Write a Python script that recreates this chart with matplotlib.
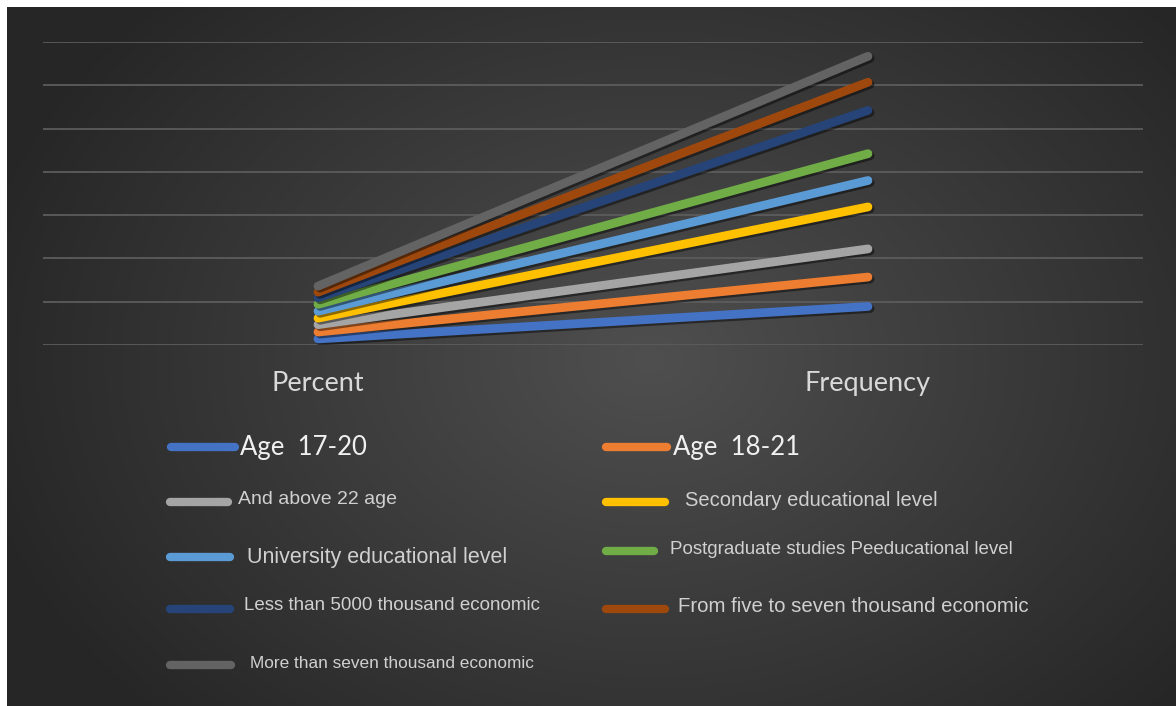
import numpy as np
import matplotlib
matplotlib.use("Agg")
import matplotlib.pyplot as plt
import matplotlib.patheffects as pe
from matplotlib.lines import Line2D

# data (stacked line values, one grid step = 1 unit)
categories = ["Percent", "Frequency"]
series = ["Age  17-20", "Age  18-21", "And above 22 age",
          "Secondary educational level", "University educational level",
          "Postgraduate studies Peeducational level",
          "Less than 5000 thousand economic",
          "From five to seven thousand economic",
          "More than seven thousand economic"]
percent = [0.14, 0.30, 0.47, 0.62, 0.78, 0.94, 1.09, 1.22, 1.36]
frequency = [0.89, 1.57, 2.22, 3.19, 3.80, 4.42, 5.42, 6.07, 6.67]
colors = ["#4472C4", "#ED7D31", "#A5A5A5", "#FFC000", "#5B9BD5",
          "#70AD47", "#264478", "#9E480E", "#636363"]

W, H = 1176, 706
fig = plt.figure(figsize=(W / 100, H / 100), dpi=100, facecolor="white")

def fx(x):
    return x / W

def fy(y):
    return 1 - y / H

# dark radial background
bg = fig.add_axes([fx(7), 0, 1 - fx(7), fy(7)])
gx, gy = np.meshgrid(np.linspace(7, W, 400), np.linspace(7, H, 300))
r = np.sqrt(((gx - 650) / 700) ** 2 + ((gy - 360) / 520) ** 2)
shade = 0x4f - (0x4f - 0x26) * np.clip(r, 0, 1)
img = np.dstack([shade, shade, shade]) / 255
bg.imshow(img, aspect="auto", extent=[0, 1, 0, 1])
bg.set_axis_off()

ax = fig.add_axes([fx(43), fy(345), fx(1143) - fx(43), fy(42) - fy(345)])
ax.set_facecolor("none")
ax.set_xlim(-0.5, 1.5)
ax.set_ylim(0, 7)
ax.set_yticks(range(8))
ax.grid(axis="y", color="#5c5c5c", linewidth=1.3)
ax.set_axisbelow(True)
for s in ax.spines.values():
    s.set_visible(False)
ax.tick_params(left=False, labelleft=False, bottom=False, labelbottom=False)

x = np.arange(len(categories))
for i in range(len(series)):
    ax.plot(x, [percent[i], frequency[i]], color=colors[i], linewidth=6.3,
            solid_capstyle="round", zorder=3 + i,
            path_effects=[pe.SimpleLineShadow(offset=(1.5, -1.5), shadow_color="black", alpha=0.45),
                          pe.Normal()])

for i, c in enumerate(categories):
    ax.text(x[i], -0.88, c, ha="center", va="center", fontsize=19.5,
            family="Lato", color="#d9d9d9")

# legend, laid out like the original
leg_line = [(171, 235, 447), (606, 667, 447), (170, 228, 502), (606, 665, 502),
            (170, 230, 557), (606, 654, 551), (170, 230, 609), (606, 665, 609),
            (170, 231, 665)]
leg_text = [(240, 447, 18.5, "Lato"), (673, 447, 18.5, "Lato"),
            (238, 499, 14, "Liberation Sans"), (685, 501, 14.5, "Liberation Sans"),
            (247, 557, 15.5, "Liberation Sans"), (670, 549, 13.5, "Liberation Sans"),
            (244, 605, 13.5, "Liberation Sans"), (678, 607, 14.7, "Liberation Sans"),
            (250, 664, 12.4, "Liberation Sans")]
for i in range(len(series)):
    x0, x1, yy = leg_line[i]
    fig.add_artist(Line2D([fx(x0), fx(x1)], [fy(yy), fy(yy)], color=colors[i],
                          linewidth=6, solid_capstyle="round",
                          transform=fig.transFigure))
    tx, ty, fs, fam = leg_text[i]
    fig.text(fx(tx), fy(ty), series[i], ha="left", va="center", fontsize=fs,
             family=fam, color="#f0f0f0" if fam == "Lato" else "#d0d0d0")

fig.savefig("out.png", dpi=100, facecolor="white")
